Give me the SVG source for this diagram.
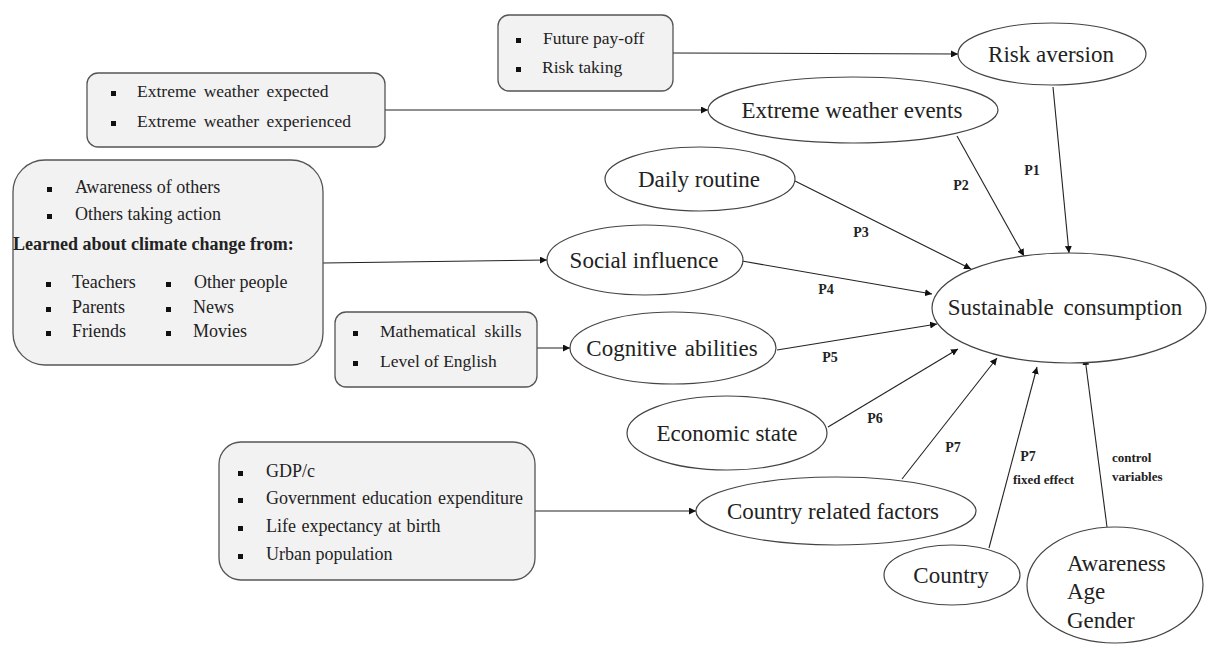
<svg xmlns="http://www.w3.org/2000/svg" width="1225" height="645" viewBox="0 0 1225 645">
<style>
.box{fill:#f2f2f2;stroke:#555;stroke-width:1.3}
.ell{fill:#fff;stroke:#444;stroke-width:1.2}
.c{stroke:#222;stroke-width:1.1;fill:none;marker-end:url(#ah)}
.t{font-family:"Liberation Serif","Times New Roman",serif;font-size:17.5px;fill:#222}
.tb{font-family:"Liberation Serif","Times New Roman",serif;font-size:18px;fill:#222}
.e{font-family:"Liberation Serif","Times New Roman",serif;font-size:23px;fill:#222;text-anchor:middle}
.el{font-family:"Liberation Serif","Times New Roman",serif;font-size:23px;fill:#222}
.p{font-family:"Liberation Serif","Times New Roman",serif;font-size:14px;font-weight:bold;fill:#222;text-anchor:middle}
.s{font-family:"Liberation Serif","Times New Roman",serif;font-size:13px;font-weight:bold;fill:#222}
</style>
<defs>
<marker id="ah" viewBox="0 0 10 10" refX="10" refY="5" markerWidth="7" markerHeight="7" markerUnits="userSpaceOnUse" orient="auto"><path d="M0,0 L10,5 L0,10 z" fill="#111"/></marker>
<rect id="bul" width="5" height="5" fill="#111"/>
</defs>
<rect width="1225" height="645" fill="#fff"/>

<g id="connectors">
<line class="c" x1="673" y1="53" x2="958" y2="54"/>
<line class="c" x1="385" y1="110" x2="708" y2="110"/>
<line class="c" x1="323" y1="263" x2="547" y2="260"/>
<line class="c" x1="537" y1="348" x2="570" y2="348"/>
<line class="c" x1="535" y1="511" x2="696" y2="511"/>
<line class="c" x1="1053" y1="87" x2="1069" y2="253"/>
<line class="c" x1="957" y1="136" x2="1024" y2="256"/>
<line class="c" x1="795" y1="181" x2="971" y2="269"/>
<line class="c" x1="742" y1="261" x2="932" y2="294"/>
<line class="c" x1="777" y1="350" x2="937" y2="324"/>
<line class="c" x1="828" y1="427" x2="958" y2="349"/>
<line class="c" x1="902" y1="479" x2="997" y2="358"/>
<line class="c" x1="989" y1="548" x2="1037" y2="367"/>
<line class="c" x1="1107" y1="527" x2="1085" y2="358"/>
<text class="p" x="1032" y="175">P1</text>
<text class="p" x="961" y="190">P2</text>
<text class="p" x="861" y="237">P3</text>
<text class="p" x="826" y="294">P4</text>
<text class="p" x="830" y="362">P5</text>
<text class="p" x="875" y="423">P6</text>
<text class="p" x="953" y="452">P7</text>
<text class="p" x="1028" y="461">P7</text>
<text class="s" x="1013" y="484" font-size="14">fixed effect</text>
<text class="s" x="1112" y="462">control</text>
<text class="s" x="1112" y="481">variables</text>
</g>

<g id="box-risk">
<rect class="box" x="498" y="15" width="175" height="76" rx="11"/>
<use href="#bul" x="516" y="38"/><text class="t" x="543" y="44" font-size="18">Future pay-off</text>
<use href="#bul" x="516" y="67"/><text class="t" x="542" y="73">Risk taking</text>
</g>

<g id="box-weather">
<rect class="box" x="87" y="73" width="298" height="74" rx="11"/>
<use href="#bul" x="111" y="91"/><text class="t" x="137" y="97" word-spacing="3">Extreme weather expected</text>
<use href="#bul" x="111" y="121"/><text class="t" x="137" y="127" word-spacing="3">Extreme weather experienced</text>
</g>

<g id="box-social">
<rect class="box" x="13" y="160" width="310" height="205" rx="32"/>
<use href="#bul" x="47" y="187"/><text class="tb" x="75" y="193">Awareness of others</text>
<use href="#bul" x="47" y="214"/><text class="tb" x="75" y="220">Others taking action</text>
<text class="tb" x="13" y="250" font-weight="bold" font-size="18.5">Learned about climate change from:</text>
<use href="#bul" x="46" y="282"/><text class="tb" x="72" y="288">Teachers</text>
<use href="#bul" x="46" y="307"/><text class="tb" x="72" y="313">Parents</text>
<use href="#bul" x="46" y="331"/><text class="tb" x="72" y="337">Friends</text>
<use href="#bul" x="166" y="282"/><text class="tb" x="194" y="288">Other people</text>
<use href="#bul" x="166" y="307"/><text class="tb" x="193" y="313">News</text>
<use href="#bul" x="166" y="331"/><text class="tb" x="193" y="337">Movies</text>
</g>

<g id="box-cognitive">
<rect class="box" x="335" y="312" width="202" height="75" rx="11"/>
<use href="#bul" x="353" y="331"/><text class="t" x="380" y="337" word-spacing="4">Mathematical skills</text>
<use href="#bul" x="353" y="361"/><text class="t" x="380" y="367">Level of English</text>
</g>

<g id="box-country">
<rect class="box" x="219" y="442" width="316" height="138" rx="22"/>
<use href="#bul" x="238" y="471"/><text class="tb" x="266" y="477">GDP/c</text>
<use href="#bul" x="238" y="498"/><text class="tb" x="266" y="504" word-spacing="1.5">Government education expenditure</text>
<use href="#bul" x="238" y="526"/><text class="tb" x="266" y="532" word-spacing="1">Life expectancy at birth</text>
<use href="#bul" x="238" y="554"/><text class="tb" x="266" y="560">Urban population</text>
</g>

<g id="risk-aversion"><ellipse class="ell" cx="1052" cy="54" rx="94" ry="31"/><text class="e" x="1051" y="62">Risk aversion</text></g>
<g id="extreme-weather"><ellipse class="ell" cx="853" cy="110" rx="145" ry="33"/><text class="e" x="852" y="118">Extreme weather events</text></g>
<g id="daily-routine"><ellipse class="ell" cx="700" cy="179" rx="95" ry="32"/><text class="e" x="699" y="187">Daily routine</text></g>
<g id="social-influence"><ellipse class="ell" cx="645" cy="260" rx="98" ry="35"/><text class="e" x="644" y="268">Social influence</text></g>
<g id="cognitive-abilities"><ellipse class="ell" cx="673" cy="348" rx="103" ry="36"/><text class="e" x="672" y="356" word-spacing="2">Cognitive abilities</text></g>
<g id="economic-state"><ellipse class="ell" cx="727" cy="433" rx="100" ry="37"/><text class="e" x="727" y="441">Economic state</text></g>
<g id="country-factors"><ellipse class="ell" cx="836" cy="511" rx="140" ry="34"/><text class="e" x="833" y="519">Country related factors</text></g>
<g id="sustainable"><ellipse class="ell" cx="1069" cy="308" rx="137" ry="55"/><text class="e" x="1065" y="315" word-spacing="4">Sustainable consumption</text></g>
<g id="country"><ellipse class="ell" cx="952" cy="575" rx="68" ry="30"/><text class="e" x="951" y="583">Country</text></g>
<g id="controls"><ellipse class="ell" cx="1115" cy="585" rx="88" ry="58"/>
<text class="el" x="1067" y="571">Awareness</text>
<text class="el" x="1067" y="599">Age</text>
<text class="el" x="1067" y="628">Gender</text></g>
</svg>
